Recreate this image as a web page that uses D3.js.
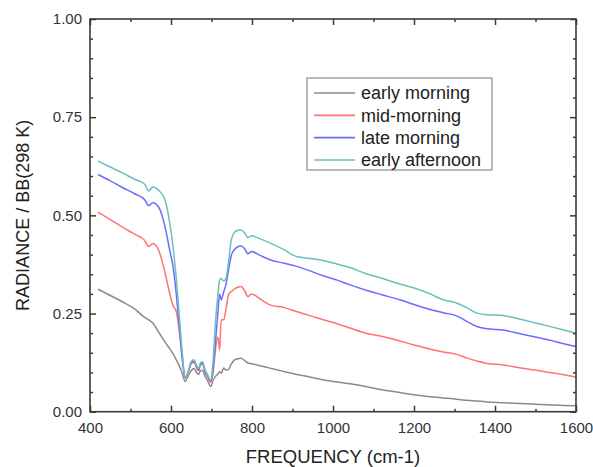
<!DOCTYPE html>
<html>
<head>
<meta charset="utf-8">
<script src="https://cdn.jsdelivr.net/npm/d3@7"></script>
<style>
  html, body { margin: 0; padding: 0; background: #fff; }
  svg { display: block; font-family: "Liberation Sans", Arial, sans-serif; }
</style>
</head>
<body>
<svg id="chart" width="593" height="467"></svg>
<script>
// ---- data ----
const freq = [420, 450, 480, 510, 535, 545, 555, 570, 585, 597, 605, 613, 620, 627, 635, 642, 650, 657, 663, 668, 673, 678, 684, 690, 698, 704, 710, 716, 720, 724, 730, 736, 742, 749, 757, 765, 773, 782, 790, 799, 820, 844, 880, 910, 945, 976, 1010, 1042, 1080, 1120, 1165, 1200, 1240, 1272, 1305, 1330, 1355, 1380, 1420, 1460, 1500, 1540, 1570, 1600];

const earlyMorning = [0.312, 0.296, 0.280, 0.262, 0.240, 0.234, 0.226, 0.202, 0.178, 0.160, 0.148, 0.132, 0.118, 0.100, 0.077, 0.090, 0.105, 0.110, 0.100, 0.095, 0.105, 0.105, 0.090, 0.080, 0.064, 0.080, 0.090, 0.096, 0.102, 0.098, 0.111, 0.106, 0.108, 0.122, 0.132, 0.135, 0.136, 0.130, 0.124, 0.122, 0.117, 0.111, 0.102, 0.095, 0.088, 0.081, 0.076, 0.071, 0.064, 0.056, 0.049, 0.043, 0.038, 0.035, 0.032, 0.029, 0.027, 0.025, 0.023, 0.021, 0.019, 0.017, 0.016, 0.015];

const midMorning = [0.508, 0.489, 0.470, 0.452, 0.436, 0.421, 0.428, 0.410, 0.355, 0.300, 0.270, 0.255, 0.210, 0.150, 0.085, 0.098, 0.122, 0.126, 0.112, 0.104, 0.119, 0.121, 0.100, 0.089, 0.075, 0.100, 0.160, 0.190, 0.157, 0.234, 0.234, 0.262, 0.298, 0.306, 0.313, 0.317, 0.319, 0.308, 0.293, 0.300, 0.287, 0.272, 0.265, 0.255, 0.244, 0.234, 0.224, 0.213, 0.200, 0.192, 0.180, 0.170, 0.159, 0.152, 0.146, 0.137, 0.129, 0.123, 0.119, 0.112, 0.106, 0.099, 0.094, 0.088];

const lateMorning = [0.604, 0.588, 0.571, 0.555, 0.540, 0.525, 0.532, 0.520, 0.472, 0.410, 0.370, 0.300, 0.220, 0.140, 0.088, 0.100, 0.125, 0.129, 0.115, 0.107, 0.122, 0.124, 0.103, 0.092, 0.078, 0.110, 0.180, 0.255, 0.300, 0.285, 0.305, 0.325, 0.360, 0.398, 0.413, 0.420, 0.422, 0.415, 0.402, 0.408, 0.398, 0.387, 0.378, 0.370, 0.358, 0.346, 0.335, 0.323, 0.310, 0.298, 0.285, 0.273, 0.260, 0.252, 0.244, 0.230, 0.217, 0.211, 0.208, 0.199, 0.190, 0.181, 0.173, 0.166];

const earlyAfternoon = [0.638, 0.623, 0.608, 0.592, 0.579, 0.562, 0.572, 0.563, 0.540, 0.480, 0.420, 0.340, 0.250, 0.160, 0.085, 0.100, 0.128, 0.132, 0.118, 0.110, 0.125, 0.127, 0.106, 0.095, 0.080, 0.130, 0.230, 0.300, 0.335, 0.340, 0.333, 0.340, 0.380, 0.438, 0.457, 0.462, 0.463, 0.455, 0.443, 0.448, 0.440, 0.430, 0.412, 0.395, 0.390, 0.385, 0.376, 0.367, 0.352, 0.340, 0.325, 0.315, 0.300, 0.285, 0.277, 0.265, 0.251, 0.247, 0.245, 0.236, 0.226, 0.216, 0.208, 0.200];

const seriesNames = ["early morning", "mid-morning", "late morning", "early afternoon"];
const seriesColors = ["#8a8a8a", "#ff7373", "#6b6bff", "#6cbfbb"];
const seriesValues = [earlyMorning, midMorning, lateMorning, earlyAfternoon];

const xMajorTicks = [400, 600, 800, 1000, 1200, 1400, 1600];
const xMinorTicks = [500, 700, 900, 1100, 1300, 1500];
const yMajorTicks = [0, 0.25, 0.5, 0.75, 1.0];
const yMinorTicks = [0.05, 0.1, 0.15, 0.2, 0.3, 0.35, 0.4, 0.45, 0.55, 0.6, 0.65, 0.7, 0.8, 0.85, 0.9, 0.95];

// ---- layout ----
const svg = d3.select("#chart");
const L = 90, R = 576, T = 19, B = 411.7;
const x = d3.scaleLinear().domain([400, 1600]).range([L, R]);
const y = d3.scaleLinear().domain([0, 1]).range([B, T]);
const axisColor = "#3a3a3a";

// series lines
const line = d3.line().x((d, i) => x(freq[i])).y(d => y(d)).curve(d3.curveMonotoneX);
const g = svg.append("g");
seriesValues.forEach((vals, k) => {
  g.append("path")
    .datum(vals)
    .attr("d", line)
    .attr("fill", "none")
    .attr("stroke", seriesColors[k])
    .attr("stroke-width", 1.5)
    .attr("stroke-linejoin", "round");
});

// axes
function styleAxis(sel) {
  sel.select(".domain").remove();
  sel.selectAll(".tick line").attr("stroke", axisColor).attr("stroke-width", 1.5);
  sel.selectAll("text").attr("fill", "#333").attr("font-size", "15px")
    .attr("font-family", "'Liberation Sans', Arial, sans-serif");
}
const fmtY = d3.format(".2f");

svg.append("g").attr("transform", `translate(0,${B})`)
  .call(d3.axisBottom(x).tickValues(xMajorTicks).tickSize(-6).tickPadding(11).tickFormat(d3.format("d")))
  .call(styleAxis);
svg.append("g").attr("transform", `translate(0,${B})`)
  .call(d3.axisBottom(x).tickValues(xMinorTicks).tickSize(-3).tickFormat(""))
  .call(styleAxis);
svg.append("g").attr("transform", `translate(0,${T})`)
  .call(d3.axisTop(x).tickValues(xMajorTicks).tickSize(-6).tickFormat(""))
  .call(styleAxis);
svg.append("g").attr("transform", `translate(0,${T})`)
  .call(d3.axisTop(x).tickValues(xMinorTicks).tickSize(-3).tickFormat(""))
  .call(styleAxis);

svg.append("g").attr("transform", `translate(${L},0)`)
  .call(d3.axisLeft(y).tickValues(yMajorTicks).tickSize(-6).tickPadding(8).tickFormat(fmtY))
  .call(styleAxis);
svg.append("g").attr("transform", `translate(${L},0)`)
  .call(d3.axisLeft(y).tickValues(yMinorTicks).tickSize(-3).tickFormat(""))
  .call(styleAxis);
svg.append("g").attr("transform", `translate(${R},0)`)
  .call(d3.axisRight(y).tickValues(yMajorTicks).tickSize(-6).tickFormat(""))
  .call(styleAxis);
svg.append("g").attr("transform", `translate(${R},0)`)
  .call(d3.axisRight(y).tickValues(yMinorTicks).tickSize(-3).tickFormat(""))
  .call(styleAxis);

// frame
svg.append("rect")
  .attr("x", L).attr("y", T).attr("width", R - L).attr("height", B - T)
  .attr("fill", "none").attr("stroke", axisColor).attr("stroke-width", 1.6);

// axis titles
svg.append("text")
  .attr("x", (L + R) / 2).attr("y", 463)
  .attr("text-anchor", "middle").attr("font-size", "18.5px").attr("fill", "#222")
  .text("FREQUENCY (cm-1)");
svg.append("text")
  .attr("transform", `translate(29,${(T + B) / 2}) rotate(-90)`)
  .attr("text-anchor", "middle").attr("font-size", "18px").attr("fill", "#222")
  .text("RADIANCE / BB(298 K)");

// legend
const lg = svg.append("g");
lg.append("rect").attr("x", 307).attr("y", 78).attr("width", 185).attr("height", 92)
  .attr("fill", "#fff").attr("stroke", "#777").attr("stroke-width", 1);
const legendY = d3.scalePoint().domain(seriesNames).range([93, 160]);
seriesNames.forEach((name, k) => {
  const yy = legendY(name);
  lg.append("line").attr("x1", 314).attr("x2", 355).attr("y1", yy).attr("y2", yy)
    .attr("stroke", seriesColors[k]).attr("stroke-width", 1.6);
  lg.append("text").attr("x", 361).attr("y", yy).attr("dy", "0.35em")
    .attr("font-size", "18px").attr("fill", "#222").text(name);
});
</script>
</body>
</html>
